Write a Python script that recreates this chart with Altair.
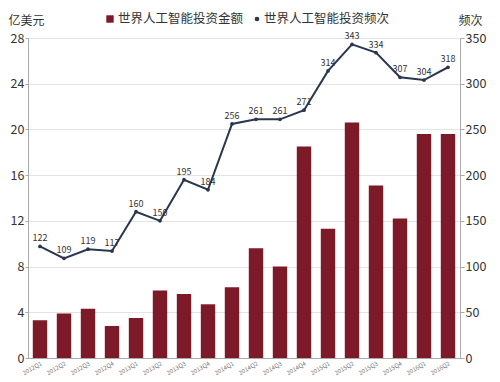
import altair as alt
import pandas as pd

quarters = ["2012Q1","2012Q2","2012Q3","2012Q4","2013Q1","2013Q2","2013Q3","2013Q4",
            "2014Q1","2014Q2","2014Q3","2014Q4","2015Q1","2015Q2","2015Q3","2015Q4",
            "2016Q1","2016Q2"]
amount = [3.3, 3.9, 4.3, 2.8, 3.5, 5.9, 5.6, 4.7, 6.2, 9.6, 8.0, 18.5, 11.3, 20.6, 15.1, 12.2, 19.6, 19.6]
freq = [122, 109, 119, 117, 160, 150, 195, 184, 256, 261, 261, 271, 314, 343, 334, 307, 304, 318]

df = pd.DataFrame({"q": quarters, "amount": amount, "freq": freq})

FONT = "Noto Sans CJK SC"
BAR = "#7d1a28"
LINE = "#2a3650"

xenc = alt.X("q:N", sort=quarters, title=None,
             scale=alt.Scale(paddingInner=0.4, paddingOuter=0.2),
             axis=alt.Axis(labelAngle=-30, labelFontSize=6, labelColor="#777",
                           domainColor="#aaa", ticks=False, labelPadding=2))

bars = alt.Chart(df).mark_bar(color=BAR).encode(
    x=xenc,
    y=alt.Y("amount:Q", scale=alt.Scale(domain=[0, 28]),
            axis=alt.Axis(values=[0, 4, 8, 12, 16, 20, 24, 28], title="亿美元",
                          titleAngle=0, titleAlign="left", titleBaseline="middle",
                          titleX=-20, titleY=-18, titleFontSize=12, titleFontWeight="normal",
                          titleColor="#333", labelFontSize=12.5, labelColor="#333",
                          domainColor="#aaa", tickColor="#aaa", tickSize=3,
                          gridColor="#e3e3e3", labelPadding=1))
)

y2 = alt.Y("freq:Q", scale=alt.Scale(domain=[0, 350]),
           axis=alt.Axis(orient="right", values=[0, 50, 100, 150, 200, 250, 300, 350],
                         title="频次", titleAngle=0, titleAlign="right", titleBaseline="middle",
                         titleX=22, titleY=-18, titleFontSize=12, titleFontWeight="normal",
                         titleColor="#333", labelFontSize=12.5, labelColor="#333",
                         domainColor="#aaa", tickColor="#aaa", tickSize=4, grid=False,
                         labelPadding=1))

line = alt.Chart(df).mark_line(color=LINE, strokeWidth=2,
                               point=alt.OverlayMarkDef(color=LINE, size=14, filled=True, opacity=1)).encode(
    x=alt.X("q:N", sort=quarters), y=y2)

labels = alt.Chart(df).mark_text(dy=-8, fontSize=9, color="#333", font=FONT).encode(
    x=alt.X("q:N", sort=quarters), y=alt.Y("freq:Q", scale=alt.Scale(domain=[0, 350])),
    text="freq:Q")

leg_df = pd.DataFrame({"k": [0]})
leg_sq = alt.Chart(leg_df).mark_square(color=BAR, size=55, opacity=1).encode(
    x=alt.value(82), y=alt.value(-19))
leg_t1 = alt.Chart(leg_df).mark_text(align="left", baseline="middle", fontSize=12.5, color="#333",
                                     font=FONT, text="世界人工智能投资金额").encode(
    x=alt.value(90), y=alt.value(-19))
leg_pt = alt.Chart(leg_df).mark_circle(color=LINE, size=22, opacity=1).encode(
    x=alt.value(229), y=alt.value(-19))
leg_t2 = alt.Chart(leg_df).mark_text(align="left", baseline="middle", fontSize=12.5, color="#333",
                                     font=FONT, text="世界人工智能投资频次").encode(
    x=alt.value(236), y=alt.value(-19))

right = alt.layer(line, labels)
chart = alt.layer(bars, right, leg_sq, leg_t1, leg_pt, leg_t2).resolve_scale(y="independent").properties(
    width=432, height=320,
    autosize=alt.AutoSizeParams(type="none"),
    padding={"left": 20, "right": 32, "top": 30, "bottom": 22}
).configure(font=FONT).configure_view(stroke=None)

chart.save("out.html", embed_options={"renderer": "svg", "actions": False})
